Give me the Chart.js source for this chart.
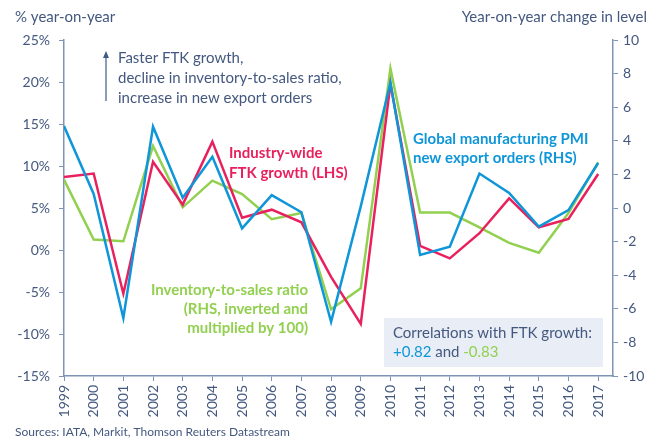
<!DOCTYPE html>
<html>
<head>
<meta charset="utf-8">
<script src="https://cdn.jsdelivr.net/npm/chart.js@4"></script>
<style>
  html, body { margin: 0; padding: 0; background: #fff; }
  #wrap { width: 649px; height: 439px; }
</style>
</head>
<body>
<div id="wrap"><canvas id="ftkChart" width="649" height="439"></canvas></div>
<script>
// values
const years = [1999, 2000, 2001, 2002, 2003, 2004, 2005, 2006, 2007, 2008, 2009, 2010, 2011, 2012, 2013, 2014, 2015, 2016, 2017];
const ftkGrowth = [8.7, 9.1, -5.2, 10.5, 5.4, 12.9, 3.85, 4.8, 3.3, -3.2, -8.8, 19.8, 0.5, -1.0, 2.0, 6.15, 2.7, 3.7, 9.05];
const pmiExportOrders = [4.88, 0.84, -6.55, 4.84, 0.61, 3.05, -1.21, 0.77, -0.25, -6.77, 0.1, 7.46, -2.8, -2.3, 2.05, 0.9, -1.11, -0.13, 2.68];
const inventorySales = [1.69, -1.88, -1.98, 3.69, 0.04, 1.63, 0.83, -0.67, -0.3, -6.03, -4.78, 8.31, -0.27, -0.27, -1.15, -2.08, -2.66, -0.3, 2.72];

const RED = '#e8215e';
const BLUE = '#0f96d8';
const GREEN = '#92d050';
const TEXT = '#44587f';
const AXIS = '#7f93b5';
const FONT = 'Lato, "Open Sans", sans-serif';

const toPoints = vals => vals.map((v, i) => ({ x: years[i], y: v }));

const notes = {
  id: 'notes',
  afterDraw(chart) {
    const c = chart.ctx;
    c.save();
    c.textBaseline = 'middle';

    c.fillStyle = TEXT;
    c.font = '15px ' + FONT;
    c.textAlign = 'left';
    c.fillText('% year-on-year', 15, 17);
    c.textAlign = 'right';
    c.fillText('Year-on-year change in level', 647, 17);

    // arrow
    c.strokeStyle = '#3f5a86';
    c.fillStyle = '#3f5a86';
    c.lineWidth = 1.2;
    c.beginPath(); c.moveTo(106, 101); c.lineTo(106, 57); c.stroke();
    c.beginPath(); c.moveTo(106, 51); c.lineTo(103, 58); c.lineTo(109, 58); c.closePath(); c.fill();

    c.fillStyle = TEXT;
    c.textAlign = 'left';
    c.font = '15px ' + FONT;
    c.fillText('Faster FTK growth,', 118, 58);
    c.fillText('decline in inventory-to-sales ratio,', 118, 78);
    c.fillText('increase in new export orders', 118, 98);

    c.font = 'bold 15px ' + FONT;
    c.fillStyle = RED;
    c.fillText('Industry-wide', 229, 153);
    c.fillText('FTK growth (LHS)', 229, 173);

    c.fillStyle = BLUE;
    c.fillText('Global manufacturing PMI', 413, 139);
    c.fillText('new export orders (RHS)', 413, 158);

    c.fillStyle = GREEN;
    c.textAlign = 'right';
    c.fillText('Inventory-to-sales ratio', 308, 290);
    c.fillText('(RHS, inverted and', 308, 309);
    c.fillText('multiplied by 100)', 308, 328);

    // correlation box
    c.fillStyle = '#e9eef6';
    c.fillRect(384, 318, 219, 49);
    c.textAlign = 'left';
    c.font = '15px ' + FONT;
    c.fillStyle = TEXT;
    c.fillText('Correlations with FTK growth:', 393, 333);
    let x = 393;
    c.fillStyle = BLUE;
    c.fillText('+0.82', x, 352);
    x += c.measureText('+0.82').width;
    c.fillStyle = TEXT;
    c.fillText(' and ', x, 352);
    x += c.measureText(' and ').width;
    c.fillStyle = GREEN;
    c.fillText('-0.83', x, 352);

    c.fillStyle = TEXT;
    c.font = '12px ' + FONT;
    c.fillText('Sources: IATA, Markit, Thomson Reuters Datastream', 15, 432);
    c.restore();
  }
};

const ctx = document.getElementById('ftkChart');
new Chart(ctx, {
  type: 'line',
  data: {
    datasets: [{
      label: 'Global manufacturing PMI new export orders (RHS)',
      data: toPoints(pmiExportOrders),
      yAxisID: 'y1',
      borderColor: BLUE,
      borderWidth: 2.5,
      pointRadius: 0,
      tension: 0
    }, {
      label: 'Industry-wide FTK growth (LHS)',
      data: toPoints(ftkGrowth),
      yAxisID: 'y',
      borderColor: RED,
      borderWidth: 2.5,
      pointRadius: 0,
      tension: 0
    }, {
      label: 'Inventory-to-sales ratio (RHS, inverted and multiplied by 100)',
      data: toPoints(inventorySales),
      yAxisID: 'y1',
      borderColor: GREEN,
      borderWidth: 2.5,
      pointRadius: 0,
      tension: 0
    }]
  },
  options: {
    responsive: false,
    animation: false,
    layout: { padding: { top: 40, left: 0, right: 0, bottom: 0 } },
    plugins: {
      legend: { display: false },
      tooltip: { enabled: false }
    },
    scales: {
      x: {
        type: 'linear',
        min: 1999,
        max: 2017.5,
        afterFit: s => { s.height = 63; },
        border: { color: AXIS, width: 1.5 },
        grid: { drawOnChartArea: false, color: AXIS, tickLength: 5 },
        ticks: {
          stepSize: 1,
          includeBounds: false,
          autoSkip: false,
          maxRotation: 90,
          minRotation: 90,
          padding: 4,
          color: TEXT,
          font: { family: FONT, size: 14 },
          callback: v => String(v)
        }
      },
      y: {
        position: 'left',
        min: -15,
        max: 25,
        afterFit: s => { s.width = 64; },
        border: { color: AXIS, width: 1.5 },
        grid: { drawOnChartArea: false, color: AXIS, tickLength: 5 },
        ticks: {
          stepSize: 5,
          padding: 9,
          color: TEXT,
          font: { family: FONT, size: 14 },
          callback: v => v + '%'
        }
      },
      y1: {
        position: 'right',
        min: -10,
        max: 10,
        afterFit: s => { s.width = 36; },
        border: { color: AXIS, width: 1.5 },
        grid: { drawOnChartArea: false, color: AXIS, tickLength: 5 },
        ticks: {
          stepSize: 2,
          padding: 5,
          color: TEXT,
          font: { family: FONT, size: 14 }
        }
      }
    }
  },
  plugins: [notes]
});
</script>
</body>
</html>
